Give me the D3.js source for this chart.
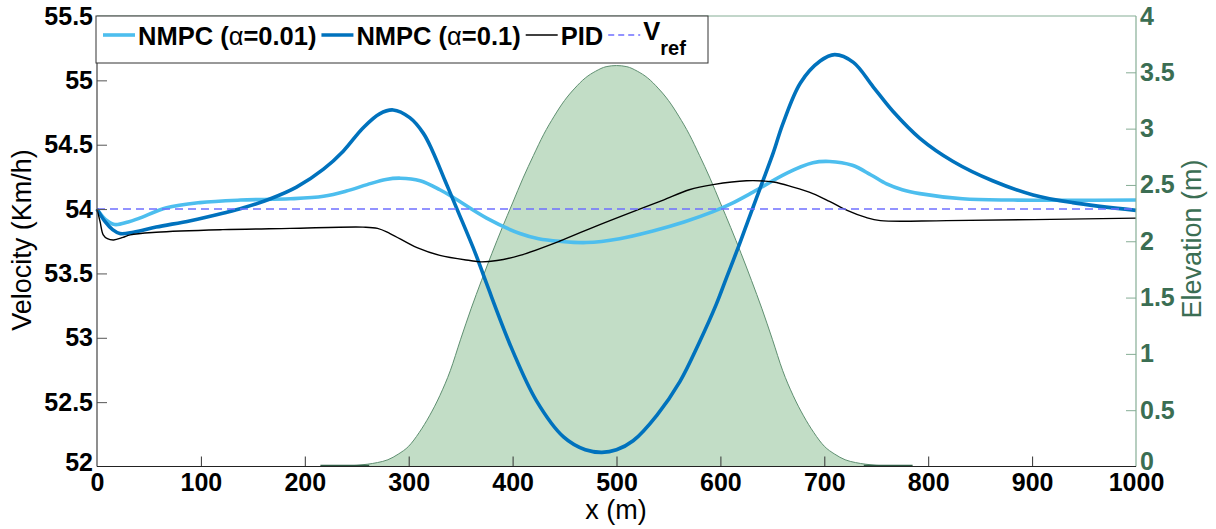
<!DOCTYPE html>
<html>
<head>
<meta charset="utf-8">
<script src="https://cdn.jsdelivr.net/npm/d3@7"></script>
<style>
  body { margin: 0; background: #fff; }
  svg { display: block; }
</style>
</head>
<body>
<svg id="chart" width="1216" height="529"></svg>
<script>
// Road elevation profile (m) along the track
const elevX = [215, 220, 230, 240, 250, 260, 270, 280, 290, 300, 310, 320, 330, 340, 350, 360, 370, 380, 390, 400,
               410, 420, 430, 440, 450, 460, 470, 480, 490, 500, 510, 520, 530, 540, 550, 560, 570, 580, 590, 600,
               610, 620, 630, 640, 650, 660, 670, 680, 690, 700, 710, 720, 730, 740, 750, 760, 770, 780, 785];
const elevH = [0, 0, 0.002, 0.005, 0.01, 0.02, 0.035, 0.06, 0.11, 0.18, 0.30, 0.45, 0.63, 0.85, 1.13, 1.40, 1.65, 1.89, 2.12, 2.34,
               2.56, 2.76, 2.95, 3.11, 3.25, 3.36, 3.45, 3.51, 3.55, 3.56, 3.55, 3.51, 3.45, 3.36, 3.25, 3.11, 2.95, 2.76, 2.56, 2.34,
               2.12, 1.89, 1.65, 1.40, 1.13, 0.85, 0.63, 0.45, 0.30, 0.18, 0.11, 0.06, 0.035, 0.02, 0.01, 0.005, 0.002, 0, 0];

// NMPC, alpha = 0.01
const nmpc01X = [0, 8, 17, 30, 41, 67, 99, 138, 186, 218, 240, 260, 278, 292, 311, 330, 343, 375, 407, 425, 445, 471,
                 503, 535, 565, 593, 610, 631, 664, 689, 705, 727, 745, 760, 775, 792, 833, 882, 1000];
const nmpc01V = [54.00, 53.92, 53.88, 53.90, 53.93, 54.01, 54.05, 54.07, 54.08, 54.10, 54.14, 54.19, 54.23, 54.24, 54.22,
                 54.15, 54.09, 53.93, 53.81, 53.77, 53.75, 53.74, 53.77, 53.83, 53.90, 53.98, 54.04, 54.13, 54.28, 54.36,
                 54.37, 54.34, 54.265, 54.195, 54.15, 54.12, 54.08, 54.07, 54.07];

// NMPC, alpha = 0.1
const nmpc1X = [0, 8, 15, 22, 35, 57, 90, 122, 141, 167, 192, 218, 237, 256, 272, 285, 301, 314, 323, 335, 347, 364,
                375, 400, 423, 449, 470, 486, 500, 516, 539, 561, 580, 596, 606, 618, 628, 640, 651, 660, 677, 696,
                710, 728, 747, 766, 792, 824, 862, 901, 939, 1000];
const nmpc1V = [54.00, 53.90, 53.84, 53.81, 53.82, 53.86, 53.91, 53.97, 54.01, 54.08, 54.17, 54.31, 54.45, 54.63, 54.74,
                54.77, 54.71, 54.59, 54.45, 54.22, 53.99, 53.66, 53.42, 52.90, 52.51, 52.23, 52.13, 52.11, 52.13, 52.20,
                52.40, 52.66, 52.97, 53.26, 53.47, 53.72, 53.94, 54.20, 54.44, 54.66, 54.98, 55.15, 55.20, 55.14, 54.95,
                54.76, 54.55, 54.37, 54.22, 54.11, 54.05, 53.99];

// PID controller
const pidX = [0, 3, 6, 10, 16, 25, 32, 57, 121, 186, 256, 270, 282, 308, 330, 359, 369, 385, 407, 445, 481, 519, 545,
              570, 593, 625, 651, 670, 689, 705, 722, 740, 754, 818, 1000];
const pidV = [54.00, 53.90, 53.80, 53.77, 53.76, 53.78, 53.80, 53.82, 53.84, 53.85, 53.86, 53.85, 53.81, 53.70, 53.64,
              53.60, 53.59, 53.60, 53.64, 53.75, 53.87, 53.99, 54.07, 54.15, 54.19, 54.22, 54.21, 54.17, 54.12, 54.06,
              53.99, 53.935, 53.91, 53.91, 53.93];

// Reference velocity
const vrefX = [0, 1000];
const vrefV = [54, 54];

// Axis ticks
const xTicks = [0, 100, 200, 300, 400, 500, 600, 700, 800, 900, 1000];
const vTicks = [52, 52.5, 53, 53.5, 54, 54.5, 55, 55.5];
const eTicks = [0, 0.5, 1, 1.5, 2, 2.5, 3, 3.5, 4];

const C = {
  light: "#4DBEEE",
  dark: "#0072BD",
  pid: "#000000",
  ref: "#6f6fff",
  fill: "#c2ddc6",
  fillEdge: "#5f8f71",
  green: "#3b6e53",
  greenAxis: "#86ad95",
  axis: "#333333"
};
const FONT = "'Liberation Sans', Arial, Helvetica, sans-serif";

const svg = d3.select("#chart");
const L = 97, R = 1136, T = 16, B = 466.5;

const x = d3.scaleLinear().domain([0, 1000]).range([L, R]);
const yV = d3.scaleLinear().domain([52, 55.5]).range([B, T]);
const yE = d3.scaleLinear().domain([0, 4]).range([B, T]);

// Elevation area (right axis)
const elev = elevX.map((d, i) => ({ x: d, h: elevH[i] }));
svg.append("path")
  .datum(elev)
  .attr("d", d3.area().x(d => x(d.x)).y0(yE(0)).y1(d => yE(d.h)).curve(d3.curveMonotoneX))
  .attr("fill", C.fill)
  .attr("stroke", C.fillEdge)
  .attr("stroke-width", 1);
svg.append("line")
  .attr("x1", x(215)).attr("x2", x(262)).attr("y1", B - 1).attr("y2", B - 1)
  .attr("stroke", "#2f5c44").attr("stroke-width", 1.5);
svg.append("line")
  .attr("x1", x(738)).attr("x2", x(785)).attr("y1", B - 1).attr("y2", B - 1)
  .attr("stroke", "#2f5c44").attr("stroke-width", 1.5);

// Velocity lines
const vLine = d3.line().x(d => x(d[0])).y(d => yV(d[1])).curve(d3.curveCatmullRom.alpha(0.5));
const zip = (a, b) => a.map((d, i) => [d, b[i]]);

svg.append("path").datum(zip(nmpc01X, nmpc01V)).attr("d", vLine)
  .attr("fill", "none").attr("stroke", C.light).attr("stroke-width", 3.6).attr("stroke-linejoin", "round");
svg.append("path").datum(zip(nmpc1X, nmpc1V)).attr("d", vLine)
  .attr("fill", "none").attr("stroke", C.dark).attr("stroke-width", 3.6).attr("stroke-linejoin", "round");
svg.append("path").datum(zip(pidX, pidV)).attr("d", vLine)
  .attr("fill", "none").attr("stroke", C.pid).attr("stroke-width", 1.4);
svg.append("path").datum(zip(vrefX, vrefV)).attr("d", d3.line().x(d => x(d[0])).y(d => yV(d[1])))
  .attr("fill", "none").attr("stroke", C.ref).attr("stroke-width", 1.4).attr("stroke-dasharray", "8,5");

// Axes
function styleAxis(g, color, textColor) {
  g.select(".domain").remove();
  g.selectAll(".tick line").attr("stroke", color).attr("stroke-width", 1);
  g.selectAll(".tick text").attr("fill", textColor)
    .style("font-family", FONT).style("font-size", "25px").style("font-weight", "bold");
}

const gLeft = svg.append("g").attr("transform", `translate(${L},0)`)
  .call(d3.axisLeft(yV).tickValues(vTicks).tickFormat(d => String(d)).tickSizeInner(-10).tickSizeOuter(0).tickPadding(4));
styleAxis(gLeft, "#555", "#000");
gLeft.selectAll(".tick").filter(d => d === 52 || d === 55.5).select("line").remove();
gLeft.selectAll(".tick").filter(d => d === 52).select("text").attr("y", -4);

const gBottom = svg.append("g").attr("transform", `translate(0,${B})`)
  .call(d3.axisBottom(x).tickValues(xTicks).tickFormat(d => String(d)).tickSizeInner(-10).tickSizeOuter(0).tickPadding(7));
styleAxis(gBottom, "#333", "#000");
gBottom.selectAll(".tick").filter(d => d === 0 || d === 1000).select("line").remove();

const gRight = svg.append("g").attr("transform", `translate(${R},0)`)
  .call(d3.axisRight(yE).tickValues(eTicks).tickFormat(d => String(d)).tickSizeInner(-10).tickSizeOuter(0).tickPadding(4));
styleAxis(gRight, C.greenAxis, C.green);
gRight.selectAll(".tick").filter(d => d === 0 || d === 4).select("line").remove();
gRight.selectAll(".tick").filter(d => d === 0).select("text").attr("y", -5);

// Frame lines
svg.append("line").attr("x1", L).attr("x2", R).attr("y1", T).attr("y2", T).attr("stroke", C.greenAxis).attr("stroke-width", 1.2);
svg.append("line").attr("x1", R).attr("x2", R).attr("y1", T).attr("y2", B).attr("stroke", C.greenAxis).attr("stroke-width", 1.2);
svg.append("line").attr("x1", L).attr("x2", L).attr("y1", T).attr("y2", B).attr("stroke", "#444").attr("stroke-width", 1.2);
svg.append("line").attr("x1", L).attr("x2", R).attr("y1", B).attr("y2", B).attr("stroke", "#222").attr("stroke-width", 1.2);

// Axis titles
svg.append("text").attr("transform", "translate(31,240) rotate(-90)")
  .attr("text-anchor", "middle").style("font-family", FONT).style("font-size", "27px")
  .attr("fill", "#000").text("Velocity (Km/h)");
svg.append("text").attr("transform", "translate(1201,239) rotate(-90)")
  .attr("text-anchor", "middle").style("font-family", FONT).style("font-size", "27px")
  .attr("fill", C.green).text("Elevation (m)");
svg.append("text").attr("x", 616).attr("y", 519)
  .attr("text-anchor", "middle").style("font-family", FONT).style("font-size", "27px")
  .attr("fill", "#000").text("x (m)");

// Legend
const leg = svg.append("g");
leg.append("rect").attr("x", 96).attr("y", T).attr("width", 612).attr("height", 47)
  .attr("fill", "#fff").attr("stroke", "#333").attr("stroke-width", 1);

const legItems = [
  { name: "NMPC (", greek: "α", rest: "=0.01)", color: C.light, w: 3.6, dash: null },
  { name: "NMPC (", greek: "α", rest: "=0.1)", color: C.dark, w: 3.6, dash: null },
  { name: "PID", color: C.pid, w: 1.4, dash: null },
  { name: "V", sub: "ref", color: C.ref, w: 1.4, dash: "6,4" }
];
let cx = 103;
const ly = 35, lbase = 45;
legItems.forEach(it => {
  leg.append("line").attr("x1", cx).attr("x2", cx + 32).attr("y1", ly).attr("y2", ly)
    .attr("stroke", it.color).attr("stroke-width", it.w).attr("stroke-dasharray", it.dash);
  cx += 35;
  const t = leg.append("text").attr("x", cx).attr("y", it.sub ? lbase - 5 : lbase)
    .style("font-family", FONT).style("font-size", "25.5px").style("font-weight", "bold").attr("fill", "#000");
  t.append("tspan").text(it.name);
  if (it.greek) {
    t.append("tspan").style("font-weight", "normal").text(it.greek);
    t.append("tspan").text(it.rest);
  }
  if (it.sub) {
    t.append("tspan").attr("dy", 15).style("font-size", "20px").text(it.sub);
  }
  cx += t.node().getComputedTextLength() + 5;
});
</script>
</body>
</html>
